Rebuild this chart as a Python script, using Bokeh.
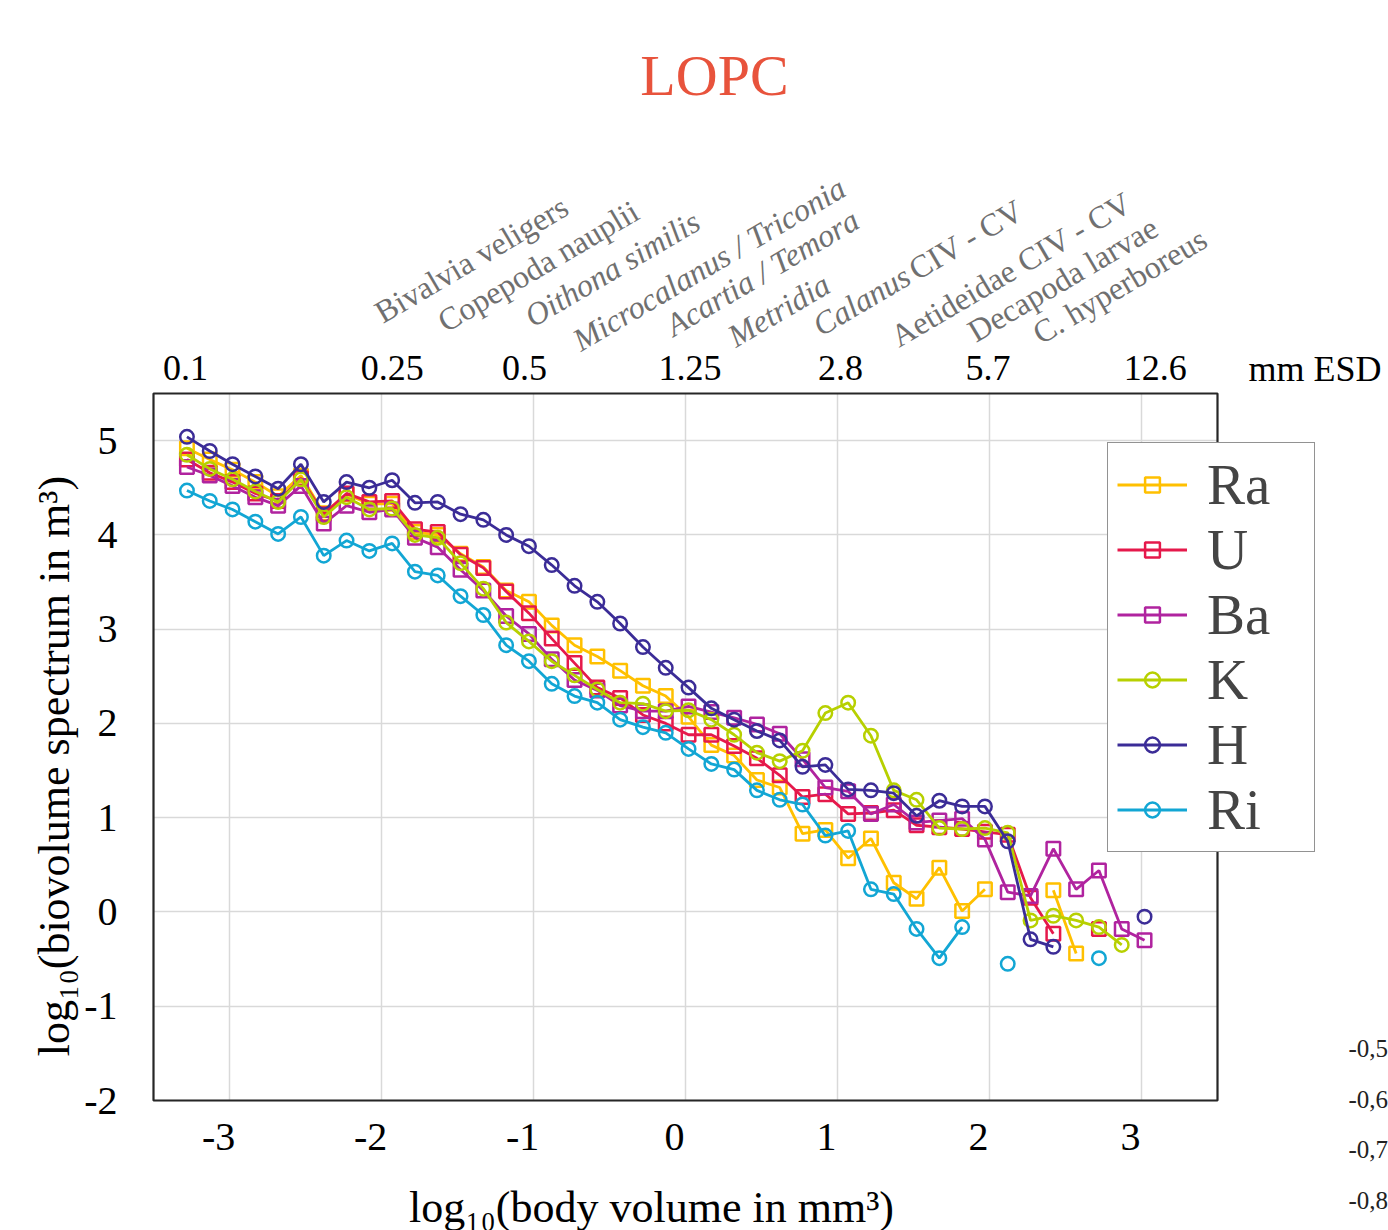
import math
import numpy as np
from bokeh.plotting import figure
from bokeh.models import (Range1d, LinearAxis, FixedTicker, Label, Legend, LegendItem,
                          BoxAnnotation)
from bokeh.embed import file_html
from bokeh.resources import INLINE

nan = float("nan")

# ---------------- data ----------------
log_body_volume = [-3.28, -3.13, -2.98, -2.83, -2.68, -2.53, -2.38, -2.23, -2.08, -1.93,
                   -1.78, -1.63, -1.48, -1.33, -1.18, -1.03, -0.88, -0.73, -0.58, -0.43,
                   -0.28, -0.13, 0.02, 0.17, 0.32, 0.47, 0.62, 0.77, 0.92, 1.07,
                   1.22, 1.37, 1.52, 1.67, 1.82, 1.97, 2.12, 2.27, 2.42, 2.57,
                   2.72, 2.87, 3.02]

ra = [4.92, 4.80, 4.69, 4.56, 4.41, 4.63, 4.23, 4.43, 4.33, 4.33,
      4.03, 4.00, 3.80, 3.66, 3.41, 3.29, 3.04, 2.83, 2.71, 2.56,
      2.40, 2.29, 2.07, 1.77, 1.66, 1.40, 1.32, 0.83, 0.87, 0.57,
      0.78, 0.31, 0.14, 0.47, 0.01, 0.24, nan, nan, 0.23, -0.44,
      nan, nan, nan]
u = [4.80, 4.66, 4.56, 4.44, 4.36, 4.60, 4.22, 4.44, 4.35, 4.36,
     4.06, 4.03, 3.79, 3.65, 3.40, 3.17, 2.90, 2.64, 2.38, 2.27,
     2.09, 2.00, 1.88, 1.88, 1.76, 1.63, 1.45, 1.22, 1.25, 1.04,
     1.05, 1.08, 0.92, 0.90, 0.88, 0.85, 0.82, 0.15, -0.23, nan,
     -0.18, nan, nan]
ba = [4.72, 4.63, 4.52, 4.40, 4.31, 4.52, 4.12, 4.31, 4.24, 4.27,
      3.97, 3.87, 3.63, 3.41, 3.14, 2.95, 2.68, 2.46, 2.35, 2.19,
      2.13, 2.13, 2.18, 2.12, 2.06, 1.99, 1.89, 1.62, 1.32, 1.28,
      1.04, 1.14, 0.95, 0.97, 0.99, 0.77, 0.21, 0.17, 0.67, 0.24,
      0.44, -0.18, -0.30]
k = [4.85, 4.70, 4.59, 4.46, 4.35, 4.59, 4.19, 4.40, 4.27, 4.28,
     4.00, 3.97, 3.70, 3.43, 3.07, 2.87, 2.66, 2.51, 2.36, 2.22,
     2.21, 2.13, 2.14, 2.04, 1.88, 1.69, 1.60, 1.71, 2.11, 2.22,
     1.87, 1.29, 1.19, 0.89, 0.88, 0.89, 0.84, -0.09, -0.04, -0.09,
     -0.16, -0.35, nan]
h = [5.04, 4.89, 4.75, 4.62, 4.49, 4.75, 4.35, 4.56, 4.50, 4.58,
     4.34, 4.35, 4.22, 4.16, 4.00, 3.88, 3.68, 3.46, 3.29, 3.06,
     2.81, 2.59, 2.38, 2.16, 2.04, 1.92, 1.82, 1.54, 1.56, 1.30,
     1.29, 1.26, 1.02, 1.18, 1.12, 1.12, 0.75, -0.29, -0.37, nan,
     nan, nan, -0.05]
ri = [4.47, 4.36, 4.27, 4.14, 4.01, 4.19, 3.78, 3.94, 3.83, 3.91,
      3.61, 3.57, 3.35, 3.15, 2.83, 2.66, 2.42, 2.29, 2.22, 2.04,
      1.96, 1.90, 1.73, 1.57, 1.51, 1.29, 1.19, 1.14, 0.81, 0.86,
      0.24, 0.19, -0.18, -0.49, -0.16, nan, -0.55, nan, nan, nan,
      -0.49, nan, nan]

series_names = ["Ra", "U", "Ba", "K", "H", "Ri"]
series_values = [ra, u, ba, k, h, ri]
series_markers = ["square", "square", "square", "circle", "circle", "circle"]
series_colors = ["#FFC000", "#E5194B", "#B0239F", "#B7D000", "#3B2C97", "#12A6D4"]

x_ticks = [-3, -2, -1, 0, 1, 2, 3]
y_ticks = [-2, -1, 0, 1, 2, 3, 4, 5]

esd_labels = ["0.1", "0.25", "0.5", "1.25", "2.8", "5.7", "12.6"]
esd_label_positions = [-3.29, -1.93, -1.06, 0.03, 1.02, 1.99, 3.09]

secondary_ticks = [-0.8, -0.7, -0.6, -0.5]
secondary_labels = ["-0,8", "-0,7", "-0,6", "-0,5"]

taxa = ["Bivalvia veligers", "Copepoda nauplii", "Oithona similis",
        "Microcalanus / Triconia", "Acartia / Temora", "Metridia",
        "Calanus", "CIV - CV", "Aetideidae CIV - CV", "Decapoda larvae",
        "C. hyperboreus"]
taxa_styles = ["normal", "normal", "italic", "italic", "italic", "italic",
               "italic", "normal", "normal", "normal", "normal"]

# ---------------- layout ----------------
W, H = 1388, 1230
FL, FR, FT, FB = 153, 1217, 393, 1100  # plot box in canvas pixels
XB = (-3.5, 3.5)
YB = (-2.0, 5.5)

def X(px):
    return XB[0] + (px - FL) / (FR - FL) * (XB[1] - XB[0])

def Y(py):
    return YB[1] - (py - FT) / (FB - FT) * (YB[1] - YB[0])

FONT = "Liberation Serif"

p = figure(width=W, height=H, x_range=Range1d(X(0), X(W)), y_range=Range1d(Y(H), Y(0)),
           x_axis_location=None, y_axis_location=None,
           output_backend="svg", toolbar_location=None, min_border=0)
p.background_fill_color = "white"
p.border_fill_color = "white"
p.outline_line_color = None

p.xgrid.ticker = FixedTicker(ticks=x_ticks)
p.ygrid.ticker = FixedTicker(ticks=y_ticks)
grid_ok = True
try:
    p.xgrid.cross_bounds = YB
    p.ygrid.cross_bounds = XB
except Exception:
    grid_ok = False
for g in (p.xgrid, p.ygrid):
    g.grid_line_color = "#D9D9D9"
    g.grid_line_width = 1.5
if not grid_ok:
    p.xgrid.visible = False
    p.ygrid.visible = False
    p.segment(x0=x_ticks, x1=x_ticks, y0=[YB[0]] * len(x_ticks), y1=[YB[1]] * len(x_ticks),
              line_color="#D9D9D9", line_width=1.5)
    p.segment(x0=[XB[0]] * len(y_ticks), x1=[XB[1]] * len(y_ticks), y0=y_ticks, y1=y_ticks,
              line_color="#D9D9D9", line_width=1.5)

# plot box
p.add_layout(BoxAnnotation(left=XB[0], right=XB[1], bottom=YB[0], top=YB[1],
                           fill_color=None, fill_alpha=0, line_color="#262626",
                           line_alpha=1.0, line_width=2.2, level="underlay"))

# bottom axis: its labels sit slightly left of the gridlines, as in the original
label_shift = 0.072
p.extra_x_ranges = {"lab": Range1d(X(0) + label_shift, X(W) + label_shift)}
sec_per_px = 0.3 / (1200 - 1048)
p.extra_y_ranges = {"sec": Range1d(-0.5 - (H - 1048) * sec_per_px, -0.5 + 1048 * sec_per_px)}

xaxis = LinearAxis(x_range_name="lab", ticker=FixedTicker(ticks=x_ticks),
                   major_label_overrides={t: str(t) for t in x_ticks},
                   axis_label="log\u2081\u2080(body volume in mm\u00b3)",
                   fixed_location=YB[0], bounds=(-3.4, 3.1))
yaxis = LinearAxis(ticker=FixedTicker(ticks=y_ticks),
                   major_label_overrides={t: str(t) for t in y_ticks},
                   axis_label="log\u2081\u2080(biovolume spectrum in m\u00b3)",
                   fixed_location=XB[0], bounds=(-2.4, 5.5))
topaxis = LinearAxis(ticker=FixedTicker(ticks=esd_label_positions),
                     major_label_overrides={pos: lab for pos, lab in zip(esd_label_positions, esd_labels)},
                     fixed_location=YB[1], bounds=XB)
secaxis = LinearAxis(y_range_name="sec", ticker=FixedTicker(ticks=secondary_ticks),
                     major_label_overrides={t: s for t, s in zip(secondary_ticks, secondary_labels)},
                     fixed_location=X(1340))
for ax in (xaxis, yaxis, topaxis, secaxis):
    ax.axis_line_color = None
    ax.major_tick_line_color = None
    ax.minor_tick_line_color = None
    ax.major_label_text_font = FONT
    ax.major_label_text_color = "black"
    ax.axis_label_text_font = FONT
    ax.axis_label_text_font_style = "normal"
    ax.axis_label_text_color = "black"
    ax.axis_label_text_font_size = "44px"
xaxis.major_label_text_font_size = "40px"
xaxis.major_label_standoff = 17
xaxis.axis_label_standoff = 30
yaxis.major_label_text_font_size = "40px"
yaxis.major_label_standoff = 30
yaxis.axis_label_standoff = 2
topaxis.major_label_text_font_size = "36px"
topaxis.major_label_standoff = 8
secaxis.major_label_text_font_size = "25px"
secaxis.major_label_text_color = "#222222"
secaxis.major_label_standoff = 2
p.add_layout(xaxis, "below")
p.add_layout(yaxis, "left")
p.add_layout(topaxis, "above")
p.add_layout(secaxis, "right")

# ---------------- series ----------------
xs = np.array(log_body_volume, dtype=float)
items = []
for name, vals, mk, col in zip(series_names, series_values, series_markers, series_colors):
    ys = np.array(vals, dtype=float)
    lr = p.line(xs, ys, line_color=col, line_width=2.8)
    sr = p.scatter(xs, ys, marker=mk, size=13.5, line_color=col, line_width=2.5,
                   fill_color=None)
    items.append(LegendItem(label=name, renderers=[lr, sr]))

legend = Legend(items=items, location=(1107, H - 852),
                label_text_font=FONT, label_text_font_size="57px",
                label_text_line_height=1.0, label_height=40, label_width=98,
                glyph_width=70, glyph_height=37, spacing=-2, padding=9,
                label_standoff=20, border_line_color="#262626",
                border_line_width=1.5, background_fill_color="white",
                background_fill_alpha=1.0)
p.add_layout(legend, "center")

# ---------------- texts ----------------
p.add_layout(Label(x=X(714), y=Y(75), text="LOPC", text_font=FONT,
                   text_font_size="58px", text_color="#E8533C",
                   text_align="center", text_baseline="middle"))
p.add_layout(Label(x=X(1248), y=Y(368), text="mm ESD", text_font=FONT,
                   text_font_size="36px", text_color="black",
                   text_align="left", text_baseline="middle"))

taxa_anchor_px = [(377, 314), (440, 323), (527, 318), (575, 342), (668, 327),
                  (730, 338), (815, 327), (911, 271), (893, 338), (970, 333),
                  (1035, 335)]
ang = math.radians(30.5)
for txt, sty, (ax_, ay_) in zip(taxa, taxa_styles, taxa_anchor_px):
    p.add_layout(Label(x=X(ax_), y=Y(ay_), text=txt, angle=ang, text_font=FONT,
                       text_font_size="32px", text_font_style=sty,
                       text_color="#707070", text_align="left",
                       text_baseline="alphabetic"))

open("out.html", "w").write(file_html(p, INLINE))
